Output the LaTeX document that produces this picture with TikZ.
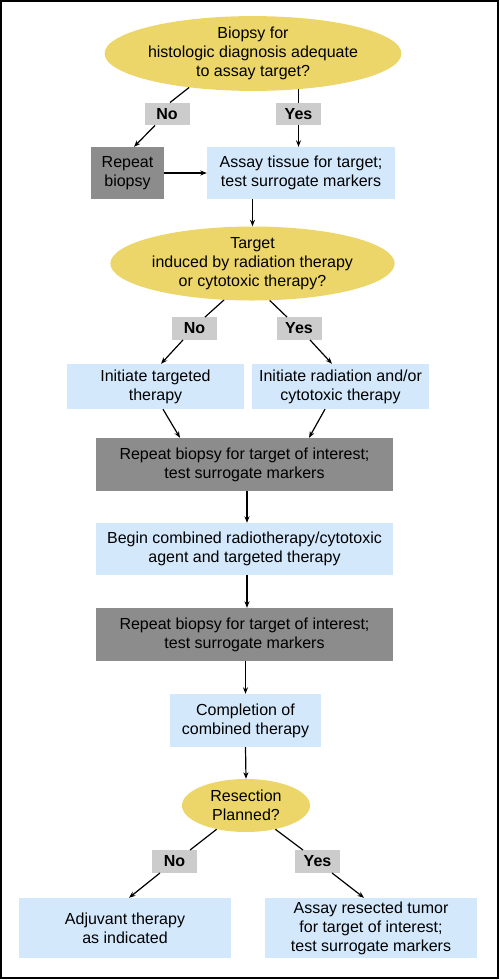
\documentclass[tikz,border=0pt]{standalone}
\usepackage{fontspec}
\setmainfont{Liberation Sans}
\usetikzlibrary{shapes.geometric,arrows.meta}
\definecolor{qyellow}{RGB}{236,214,106}
\definecolor{lblue}{RGB}{212,232,252}
\definecolor{dgray}{RGB}{140,140,140}
\definecolor{lgray}{RGB}{204,204,204}
\tikzset{
  base/.style={inner sep=0pt, align=center, font=\fontsize{16}{19}\selectfont},
  question/.style={base, ellipse, fill=qyellow},
  bluebox/.style={base, rectangle, fill=lblue},
  graybox/.style={base, rectangle, fill=dgray},
  answer/.style={base, rectangle, fill=lgray, font=\fontsize{16}{19}\selectfont\bfseries, minimum width=45pt, minimum height=22.5pt},
  conn/.style={line width=1.2pt},
  arr/.style={line width=1.2pt, -{Stealth[length=6.5pt,width=5pt]}},
}
\begin{document}
\begin{tikzpicture}[x=1pt,y=-1pt]
\useasboundingbox (0,0) rectangle (500,980);
\draw[line width=1.5pt] (1,1) rectangle (498,978);

\node[question, minimum width=242pt, minimum height=67pt] (q1) at (253,53.5) {Biopsy for\\histologic diagnosis adequate\\to assay target?};
\node[answer] (no1) at (167,114) {No};
\node[answer] (yes1) at (298.5,114) {Yes};
\node[graybox, minimum width=73pt, minimum height=52pt] (rb1) at (127.5,173) {Repeat\\biopsy};
\node[bluebox, minimum width=188pt, minimum height=52pt] (assay1) at (301,173) {Assay tissue for target;\\test surrogate markers};

\node[question, minimum width=241pt, minimum height=67pt] (q2) at (252.5,263.5) {Target\\induced by radiation therapy\\or cytotoxic therapy?};
\node[answer] (no2) at (194.5,328.5) {No};
\node[answer] (yes2) at (299,328.5) {Yes};
\node[bluebox, minimum width=177pt, minimum height=45pt] (it) at (155.5,386.5) {Initiate targeted\\therapy};
\node[bluebox, minimum width=177pt, minimum height=45pt] (ir) at (340.5,386.5) {Initiate radiation and/or\\cytotoxic therapy};

\node[graybox, minimum width=297pt, minimum height=53pt] (rb2) at (244.5,464.5) {Repeat biopsy for target of interest;\\test surrogate markers};
\node[bluebox, minimum width=297pt, minimum height=52pt] (bc) at (244.5,549) {Begin combined radiotherapy/cytotoxic\\agent and targeted therapy};
\node[graybox, minimum width=297pt, minimum height=53pt] (rb3) at (244.5,634.5) {Repeat biopsy for target of interest;\\test surrogate markers};
\node[bluebox, minimum width=151pt, minimum height=53pt] (comp) at (245.5,720.5) {Completion of\\combined therapy};

\node[question, minimum width=128pt, minimum height=53pt] (q3) at (246,805.5) {Resection\\Planned?};
\node[answer] (no3) at (174.5,861.5) {No};
\node[answer] (yes3) at (317.5,861.5) {Yes};
\node[bluebox, minimum width=212pt, minimum height=60pt] (adj) at (125,928) {Adjuvant therapy\\as indicated};
\node[bluebox, minimum width=212pt, minimum height=60pt] (ar) at (371,928) {Assay resected tumor\\for target of interest;\\test surrogate markers};

% connectors
\draw[conn] (q1.-152.3) -- ([xshift=3pt]no1.north);
\draw[arr] ([xshift=-12pt]no1.south) -- ([xshift=6.5pt]rb1.north);
\draw[conn] (q1.-34.6 -| yes1.north) -- (yes1.north);
\draw[arr] (yes1.south) -- (yes1.south |- assay1.north);
\draw[arr] (rb1.east) -- (assay1.west);
\draw[arr] (q2.north |- assay1.south) -- (q2.north);

\draw[conn] (q2.-128.6) -- ([xshift=10.5pt]no2.north);
\draw[conn] (q2.-65.8) -- ([xshift=-12pt]yes2.north);
\draw[arr] ([xshift=-11.5pt]no2.south) -- ([xshift=5.5pt]it.north);
\draw[arr] ([xshift=11pt]yes2.south) -- ([xshift=-8.5pt]ir.north);
\draw[arr] ([xshift=7.5pt]it.south) -- ([xshift=-64.5pt]rb2.north);
\draw[arr] ([xshift=-15.5pt]ir.south) -- ([xshift=64.5pt]rb2.north);

\draw[arr] ([xshift=2.5pt]rb2.south) -- ([xshift=2.5pt]bc.north);
\draw[arr] ([xshift=2.5pt]bc.south) -- ([xshift=2.5pt]rb3.north);
\draw[arr] (comp.north |- rb3.south) -- (comp.north);
\draw[arr] (comp.south) -- (q3.north);

\draw[conn] (q3.-141) -- ([xshift=15.5pt]no3.north);
\draw[conn] (q3.-39) -- ([xshift=-14.5pt]yes3.north);
\draw[arr] ([xshift=-14.5pt]no3.south) -- ([xshift=4pt]adj.north);
\draw[arr] ([xshift=14.5pt]yes3.south) -- ([xshift=-7pt]ar.north);
\end{tikzpicture}
\end{document}
